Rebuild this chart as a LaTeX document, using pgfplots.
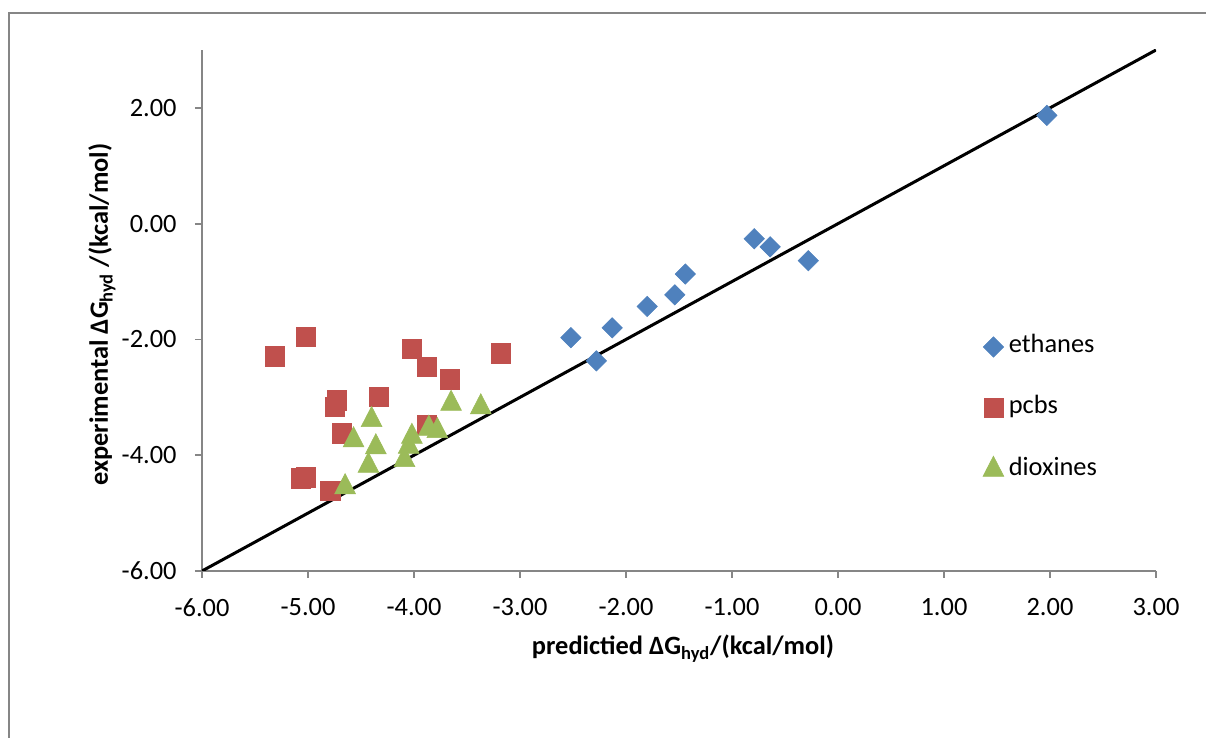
\documentclass[border=0pt]{standalone}
\usepackage{fontspec}
\setmainfont{Carlito}
\usepackage{pgfplots}
\pgfplotsset{compat=1.18}
\definecolor{xlblue}{HTML}{4F81BD}
\definecolor{xlred}{HTML}{C0504D}
\definecolor{xlgreen}{HTML}{9BBB59}
\definecolor{xlgray}{HTML}{868686}
\newcommand{\chartfont}{\fontsize{13.2}{15}\selectfont}

\begin{document}
\begin{tikzpicture}
\useasboundingbox (-101pt,-83.5pt) rectangle (502pt,285.5pt);
% chart area border (only top and left fall inside the picture)
\draw[xlgray, line width=1pt] (-96.5pt,-95pt) -- (-96.5pt,279pt) -- (515pt,279pt);
\begin{axis}[
  at={(0,0)}, anchor=south west,
  scale only axis, width=477pt, height=260.5pt,
  xmin=-6, xmax=3, ymin=-6, ymax=3,
  xtick={-6,...,3}, ytick={-6,-4,...,2},
  axis x line*=bottom, axis y line*=left,
  axis line style={xlgray, line width=0.85pt},
  tick style={xlgray, line width=0.85pt},
  tick align=outside, major tick length=3.5pt,
  /pgf/number format/fixed, /pgf/number format/fixed zerofill,
  /pgf/number format/precision=2, /pgf/number format/assume math mode=true,
  tick label style={font=\chartfont, inner sep=0pt, text=black},
  xticklabel style={anchor=north, yshift=-10pt},
  yticklabel style={anchor=east, xshift=-9pt},
  every axis x label/.style={at={(axis description cs:0.5,0)}, anchor=base, yshift=-42pt, xshift=2pt, inner sep=0pt, font=\chartfont},
  every axis y label/.style={at={(axis description cs:0,0.5)}, xshift=-47pt, yshift=-2pt, rotate=90, anchor=base, inner sep=0pt, font=\chartfont},
  xlabel={\textbf{predictied ΔG\textsubscript{hyd}/(kcal/mol)}},
  ylabel={\textbf{experimental ΔG\textsubscript{hyd} /(kcal/mol)}},
  legend style={draw=none, fill=none, inner sep=0pt, outer sep=0pt,
    at={(rel axis cs:0.8187,0.4530)}, anchor=north west,
    row sep=18.3pt, column sep=2.5pt,
    nodes={inner sep=0pt, text height=9pt, text depth=3pt, font=\chartfont}},
  legend cell align=left,
  legend image code/.code={\draw[#1] plot coordinates {(0pt,0pt)};},
]
\addplot[black, line width=1.5pt, forget plot] coordinates {(-6,-6) (3,3)};

\addplot[only marks, mark=square*, mark size=3.6pt,
  mark options={rotate=45, fill=xlblue, draw=xlblue, line width=0.3pt}]
  coordinates {(-2.52,-1.97) (-2.28,-2.37) (-2.13,-1.80) (-1.80,-1.43) (-1.54,-1.23)
               (-1.44,-0.87) (-0.79,-0.26) (-0.64,-0.40) (-0.28,-0.64) (1.97,1.87)};
\addlegendentry{ethanes}

\addplot[only marks, mark=square*, mark size=4.8pt,
  mark options={fill=xlred, draw=xlred, line width=0.3pt}]
  coordinates {(-5.31,-2.29) (-5.02,-1.96) (-4.02,-2.16) (-3.88,-2.47) (-3.66,-2.69)
               (-3.18,-2.24) (-4.73,-3.05) (-4.75,-3.17) (-4.33,-2.99) (-4.68,-3.62)
               (-3.88,-3.48) (-5.07,-4.40) (-5.02,-4.38) (-4.79,-4.61)};
\addlegendentry{pcbs}

\addplot[only marks, mark=triangle*, mark size=6pt,
  mark options={yscale=1.12, fill=xlgreen, draw=xlgreen, line width=0.3pt}]
  coordinates {(-4.40,-3.39) (-4.57,-3.74) (-4.36,-3.86) (-4.43,-4.18) (-4.65,-4.55)
               (-3.65,-3.11) (-3.37,-3.17) (-4.02,-3.68) (-4.05,-3.85) (-4.09,-4.08)
               (-3.86,-3.54) (-3.78,-3.58)};
\addlegendentry{dioxines}
\end{axis}
\end{tikzpicture}
\end{document}
